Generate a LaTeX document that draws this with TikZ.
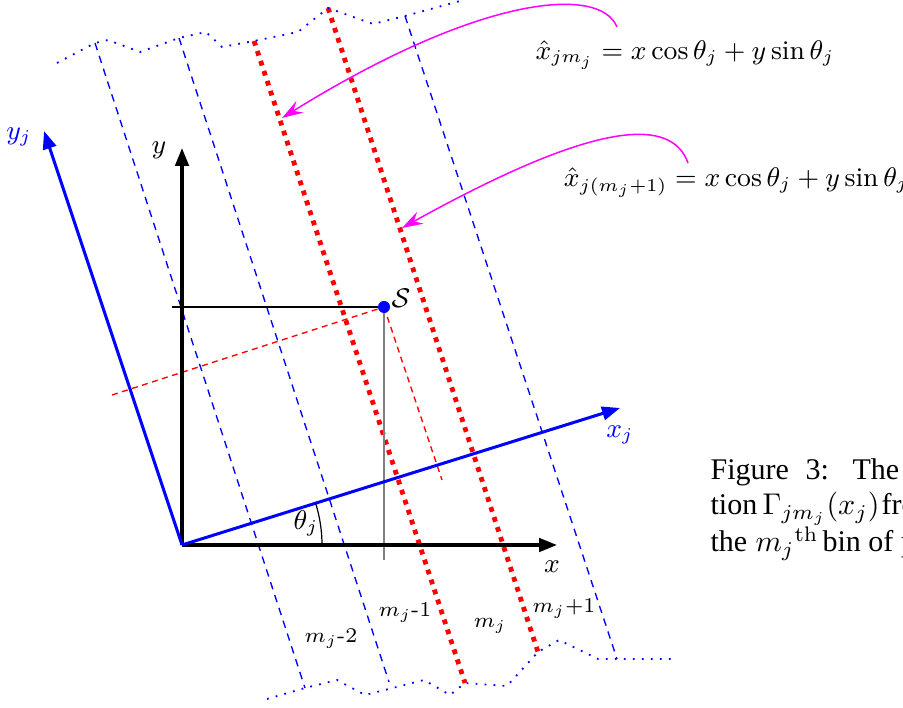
\documentclass[tikz,border=0pt]{standalone}
\usepackage{fontspec}
\newfontfamily\capfont{Liberation Serif}
\usetikzlibrary{arrows.meta}
\definecolor{pmag}{RGB}{255,0,255}
\definecolor{pblue}{RGB}{0,0,255}
\definecolor{pred}{RGB}{255,0,0}
\tikzset{
  binline/.style={pblue, line width=0.45pt, dash pattern=on 2.5pt off 2pt},
  edgeline/.style={pred, line width=1.6pt, dash pattern=on 1.6pt off 1.9pt},
  wavy/.style={pblue, line width=0.6pt, dash pattern=on 0.6pt off 2.4pt},
  axis/.style={black, line width=1.1pt, -{Triangle[length=6pt,width=4.5pt]}},
  rotaxis/.style={pblue, line width=1pt, -{Triangle[length=6pt,width=4.5pt]}},
  pointer/.style={pmag, line width=0.5pt, -{Stealth[length=7pt,width=4.5pt,inset=2.5pt]}},
  proj/.style={pred, line width=0.45pt, dash pattern=on 2pt off 1.5pt},
  lbl/.style={font=\small, inner sep=0pt, anchor=base},
  binlbl/.style={font=\scriptsize, inner sep=0pt, anchor=base},
  captxt/.style={font=\capfont\normalsize, inner sep=0pt, anchor=base west},
}
\begin{document}
\begin{tikzpicture}[x=0.33333pt,y=-0.33333pt]
\useasboundingbox (0,0) rectangle (903,708);
\clip (0,0) rectangle (903,708);

% bin boundary lines
\coordinate (L1t) at (95,43);   \coordinate (L1b) at (305,688);
\coordinate (L2t) at (179,38);  \coordinate (L2b) at (389,682);
\coordinate (R1t) at (254,41);  \coordinate (R1b) at (465,683);
\coordinate (R2t) at (328,8);   \coordinate (R2b) at (538,652);
\coordinate (L3t) at (405,16);  \coordinate (L3b) at (617,659);

\draw[binline] (L1t) -- (L1b);
\draw[binline] (L2t) -- (L2b);
\draw[binline] (L3t) -- (L3b);
\draw[edgeline] (R1t) -- (R1b);
\draw[edgeline] (R2t) -- (R2b);

% wavy cut lines
\draw[wavy] (57,63) -- (L1t) -- (108,40) -- (140,52) -- (L2t) -- (206,32) -- (222,47)
  -- (R1t) -- (298,32) -- (R2t) -- (373,24) -- (L3t) -- (460,1);
\draw[wavy] (267,699) -- (L1b) -- (337,680) -- (365,695) -- (424,680) -- (450,695)
  -- (R1b) -- (507,686) -- (R2b) -- (559,640) -- (598,659) -- (L3b) -- (673,659);

% point S and its projections
\coordinate (Sc) at (384,307);
\coordinate (hl) at (172,307);
\coordinate (vl) at (384,560);
\coordinate (pl) at (112,395);
\coordinate (pd) at (442,480);
\draw[line width=0.4pt] (hl) -- (Sc);
\draw[gray, line width=0.6pt] (Sc) -- (vl);
\draw[proj] (pl) -- (Sc);
\draw[proj] (Sc) -- (pd);

% axes
\coordinate (O) at (182,545);
\coordinate (xe) at (557,545);
\coordinate (ye) at (182,148);
\coordinate (xje) at (620,408);
\coordinate (yje) at (44,131);
\draw[axis] (O) -- (xe);
\draw[axis] (O) -- (ye);
\draw[rotaxis] (O) -- (xje);
\draw[rotaxis] (O) -- (yje);

\coordinate (arcs) at (322,545);
\draw[line width=0.4pt] (arcs) arc[start angle=0, end angle=-17.4, radius=140];

\node[circle, fill=pblue, inner sep=0pt, minimum size=4pt] (S) at (Sc) {};

% magenta pointers
\coordinate (m1s) at (617,27);  \coordinate (m1e) at (282,118);
\coordinate (m2s) at (688,163); \coordinate (m2e) at (402,228);
\draw[pointer] (m1s) .. controls (600,-15) and (480,-5) .. (m1e);
\draw[pointer] (m2s) .. controls (672,118) and (600,118) .. (m2e);

% labels
\node[lbl, text=pblue] (lyj) at (19,140) {$y_j$};
\node[lbl] (ly) at (159,154) {$y$};
\node[lbl] (lx) at (552,573) {$x$};
\node[lbl, text=pblue] (lxj) at (620,438) {$x_j$};
\node[lbl] (lth) at (306,530) {$\theta_j$};
\node[lbl] (lS) at (401,308) {$\mathcal{S}$};
\node[lbl] (eq1) at (685,60) {$\hat{x}_{jm_j} = x\cos\theta_j + y\sin\theta_j$};
\node[lbl] (eq2) at (736,187) {$\hat{x}_{j(m_j+1)} = x\cos\theta_j + y\sin\theta_j$};

\node[binlbl] (b2) at (331,643) {$m_j$-2};
\node[binlbl] (b1) at (405,617) {$m_j$-1};
\node[binlbl] (b0) at (490,628) {$m_j$};
\node[binlbl] (bp) at (564,613) {$m_j$+1};

% caption fragment (cut off at the right edge, as in the source)
\node[captxt] (c1) at (710,480) {Figure};
\node[captxt] (c1n) at (805,480) {3:};
\node[captxt] (c1b) at (852,480) {The};
\node[captxt] (c2) at (710,515) {tion};
\node[captxt] (c2m) at (762,515) {$\Gamma_{jm_j}(x_j)$};
\node[captxt] (c2b) at (881,515) {fro};
\node[captxt] (c3) at (710,552) {the};
\node[captxt] (c3m) at (755,552) {$m_j{}^{\mathrm{th}}$};
\node[captxt] (c3b) at (822,552) {bin of p};
\end{tikzpicture}
\end{document}
